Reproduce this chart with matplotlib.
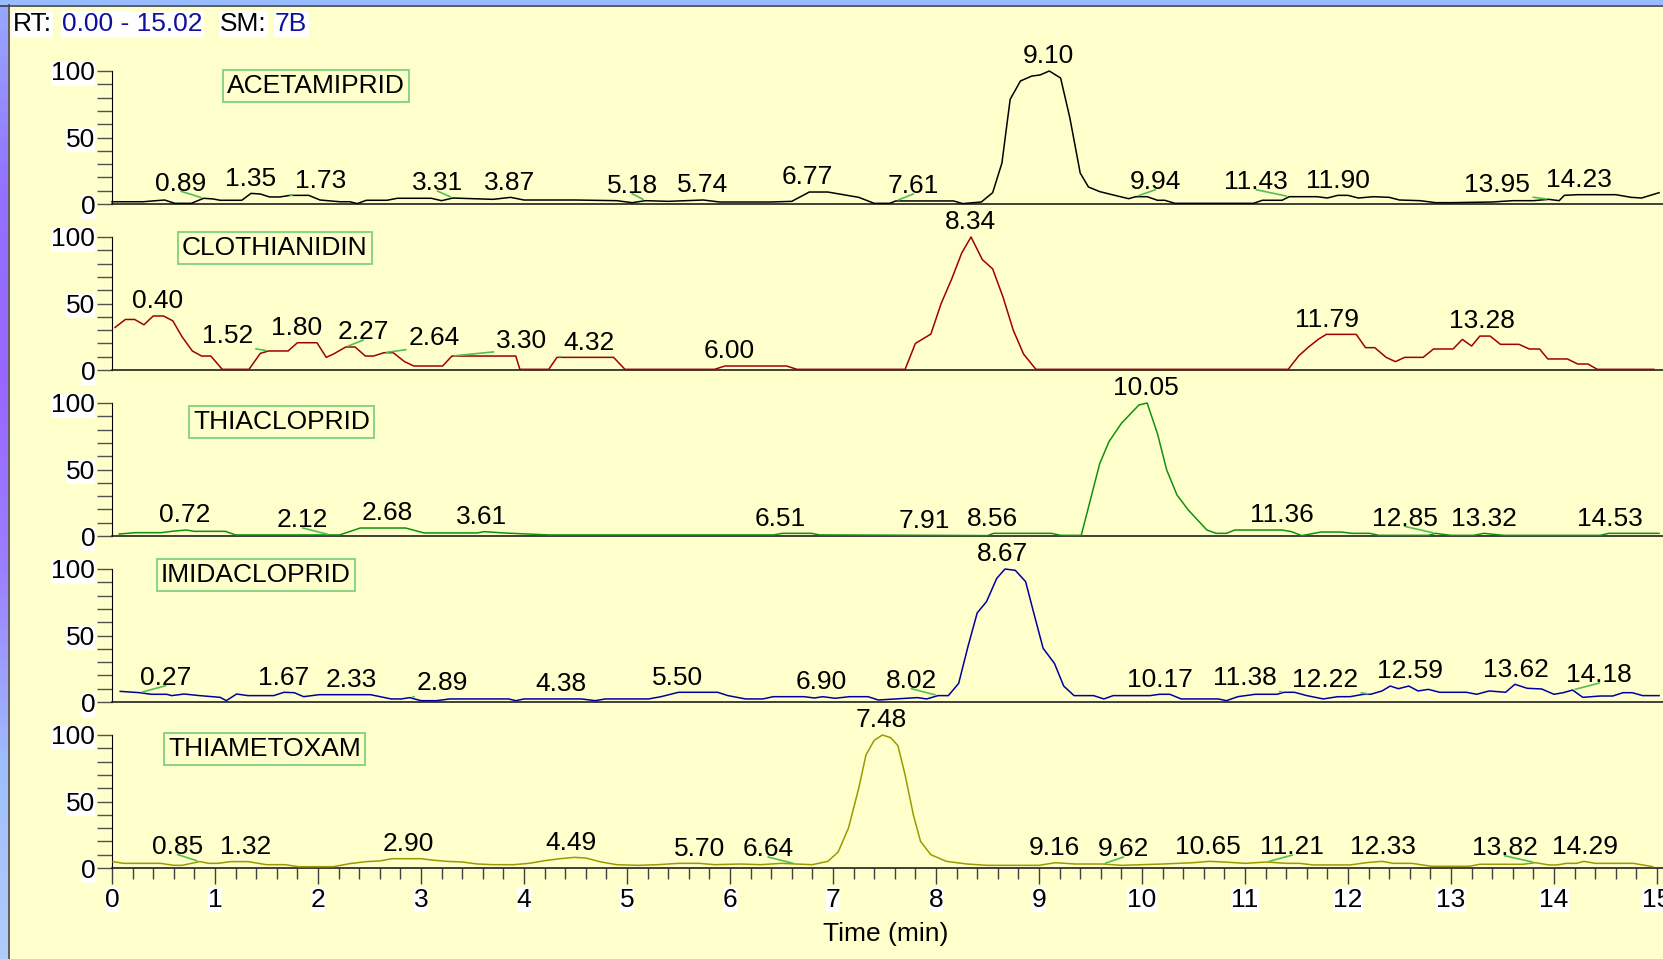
import numpy as np
import matplotlib.pyplot as plt
from matplotlib.ticker import MultipleLocator
from matplotlib.transforms import offset_copy
from matplotlib.colors import LinearSegmentedColormap

plt.rcParams['font.family'] = ['Liberation Sans', 'DejaVu Sans']

W, H, DPI = 1663, 959, 100

# (time [min], relative abundance [%]) vertices of each chromatogram
acet = [(0.00, 1.7), (0.30, 1.7), (0.51, 3.0), (0.61, 0.5), (0.77, 0.5), (0.89, 4.3),
        (0.98, 3.8), (1.05, 2.8), (1.26, 2.8), (1.35, 8.0), (1.44, 7.5), (1.53, 5.3),
        (1.63, 5.3), (1.73, 6.5), (1.91, 6.5), (2.02, 3.0), (2.21, 1.7), (2.31, 1.7),
        (2.38, 0.3), (2.47, 2.8), (2.67, 2.8), (2.77, 4.3), (3.10, 4.3), (3.20, 2.5),
        (3.31, 4.5), (3.50, 4.0), (3.70, 3.5), (3.87, 5.0), (4.00, 3.0), (4.50, 3.0),
        (4.90, 2.5), (5.05, 1.0), (5.18, 2.5), (5.40, 2.0), (5.74, 3.0), (5.90, 1.5),
        (6.40, 1.5), (6.60, 2.0), (6.77, 9.0), (6.95, 9.0), (7.10, 7.0), (7.25, 5.0),
        (7.40, 0.5), (7.55, 0.5), (7.61, 2.3), (8.17, 2.3), (8.26, 0.3), (8.44, 1.5),
        (8.55, 8.5), (8.64, 30.8), (8.72, 78.7), (8.82, 92.5), (8.93, 96.2), (9.01, 97.0),
        (9.10, 100.0), (9.21, 94.7), (9.30, 64.6), (9.40, 23.3), (9.48, 12.8), (9.59, 9.3),
        (9.72, 6.8), (9.87, 4.0), (9.94, 5.5), (10.05, 5.5), (10.15, 2.8), (10.22, 2.8),
        (10.32, 0.5), (11.08, 0.5), (11.17, 2.8), (11.36, 2.8), (11.43, 5.5), (11.70, 5.5),
        (11.80, 4.5), (11.90, 6.5), (12.00, 6.5), (12.10, 4.5), (12.25, 5.5), (12.40, 5.0),
        (12.50, 3.0), (12.70, 2.5), (12.85, 1.0), (13.00, 1.0), (13.40, 1.5), (13.60, 2.5),
        (13.80, 2.5), (13.95, 3.5), (14.05, 2.5), (14.10, 6.5), (14.23, 7.0), (14.60, 7.0),
        (14.75, 5.0), (14.85, 4.5), (15.02, 8.5)]

clot = [(0.03, 32), (0.13, 38), (0.22, 38), (0.31, 34), (0.40, 40.6), (0.50, 40.6),
        (0.59, 37), (0.68, 25), (0.78, 14.3), (0.87, 10.5), (0.96, 10.5), (1.07, 0.5),
        (1.33, 0.5), (1.44, 12.5), (1.52, 14.3), (1.71, 14.3), (1.80, 20.5), (1.99, 20.5),
        (2.08, 9.5), (2.15, 12), (2.27, 17.3), (2.36, 17.3), (2.46, 10.5), (2.54, 10.5),
        (2.64, 13), (2.73, 13), (2.84, 6.3), (2.93, 3), (3.21, 3), (3.30, 10.5),
        (3.92, 10.5), (3.96, 0.5), (4.24, 0.5), (4.32, 9.5), (4.87, 9.5), (4.98, 0.5),
        (5.85, 0.5), (5.95, 3), (6.00, 3), (6.55, 3), (6.65, 0.5), (7.70, 0.5),
        (7.80, 20), (7.95, 27), (8.05, 50), (8.15, 68), (8.25, 88), (8.34, 100),
        (8.45, 83), (8.55, 76), (8.65, 55), (8.75, 30), (8.85, 12), (8.97, 0.5),
        (11.42, 0.5), (11.52, 10.5), (11.61, 16.8), (11.71, 23), (11.79, 26.8), (12.08, 26.8),
        (12.17, 16.8), (12.26, 16.8), (12.37, 9.5), (12.46, 6.3), (12.55, 9.5), (12.73, 9.5),
        (12.83, 15.8), (13.02, 15.8), (13.11, 23), (13.20, 18), (13.28, 25.5), (13.38, 25.5),
        (13.48, 19.3), (13.66, 19.3), (13.76, 15.8), (13.86, 15.8), (13.94, 8.3), (14.13, 8.3),
        (14.23, 4.5), (14.33, 4.5), (14.42, 0.5), (14.97, 0.5)]

thia = [(0.07, 1.5), (0.23, 2.5), (0.48, 2.5), (0.58, 3.5), (0.72, 4.5), (0.80, 3.5),
        (1.10, 3.5), (1.20, 0.8), (2.12, 0.8), (2.21, 0.8), (2.41, 6), (2.68, 6),
        (2.85, 6), (3.03, 2.3), (3.55, 2.3), (3.61, 3.3), (3.80, 2.3), (4.24, 0.8),
        (6.42, 0.8), (6.51, 2), (6.79, 2), (6.87, 0.8), (7.91, 0.5), (8.50, 0.3),
        (8.56, 2), (9.12, 2), (9.21, 0.5), (9.41, 0.5), (9.49, 24.5), (9.59, 54.6),
        (9.68, 71), (9.80, 84.7), (9.97, 98.5), (10.05, 100), (10.15, 77), (10.24, 49.6),
        (10.34, 30.8), (10.45, 19.5), (10.63, 4.5), (10.72, 2), (10.82, 2), (10.90, 4.5),
        (11.36, 4.5), (11.45, 3.3), (11.55, 0.3), (11.74, 3), (11.93, 3), (12.04, 2),
        (12.21, 2), (12.30, 0.5), (12.78, 0.5), (12.85, 2), (13.00, 0.5), (13.22, 0.5),
        (13.32, 2), (13.51, 0.5), (14.45, 0.5), (14.53, 2), (15.02, 2)]

imid = [(0.08, 8), (0.27, 7), (0.38, 5.8), (0.53, 5.8), (0.58, 4.8), (0.70, 6),
        (0.85, 4.8), (1.05, 3.5), (1.11, 1), (1.21, 6), (1.32, 4.8), (1.57, 4.8),
        (1.67, 7.3), (1.77, 7), (1.86, 4), (2.01, 5.5), (2.33, 5.5), (2.51, 5.5),
        (2.71, 2.3), (2.81, 2.3), (2.89, 3.3), (3.00, 1), (3.15, 1), (3.28, 2.3),
        (3.85, 2.3), (3.92, 1), (4.00, 2.3), (4.38, 2.3), (4.56, 2.3), (4.69, 1),
        (4.79, 2.3), (5.21, 2.3), (5.33, 4), (5.50, 7.3), (5.88, 7.3), (5.98, 4.8),
        (6.15, 2.3), (6.32, 2.3), (6.42, 4), (6.72, 4), (6.82, 3), (6.90, 4),
        (7.02, 2.8), (7.16, 4), (7.34, 4), (7.44, 1.5), (7.82, 3.3), (7.91, 2.3),
        (8.02, 4.8), (8.12, 4.8), (8.22, 14), (8.31, 41.6), (8.40, 67), (8.49, 75.4),
        (8.59, 93), (8.67, 100), (8.77, 99), (8.87, 90.5), (8.95, 66.7), (9.04, 40.4),
        (9.15, 29), (9.24, 12), (9.34, 4.8), (9.53, 4.8), (9.63, 2.3), (9.72, 4.8),
        (10.08, 4.8), (10.17, 5.8), (10.27, 5.8), (10.38, 2.3), (10.74, 2.3), (10.82, 1),
        (10.93, 4), (11.10, 5.8), (11.31, 5.8), (11.38, 7.3), (11.48, 7.3), (11.60, 4.8),
        (11.76, 2.3), (11.90, 4), (12.02, 4), (12.15, 5.8), (12.22, 5.8), (12.33, 8.3),
        (12.41, 12), (12.49, 10), (12.59, 12), (12.68, 8.3), (12.78, 9.5), (12.89, 7.3),
        (13.15, 7.3), (13.25, 5.8), (13.37, 8.3), (13.53, 7.3), (13.62, 13.3), (13.74, 10.3),
        (13.88, 9.8), (14.00, 5.8), (14.09, 7), (14.18, 9), (14.28, 3.5), (14.45, 4.5),
        (14.57, 4.5), (14.67, 7), (14.76, 7), (14.86, 4.8), (15.02, 4.8)]

thiam = [(0.01, 4.8), (0.11, 3.5), (0.47, 3.5), (0.60, 2), (0.68, 2), (0.85, 4.8),
         (0.94, 3.5), (1.03, 3.5), (1.15, 4.8), (1.32, 4.8), (1.50, 2.5), (1.68, 2.5),
         (1.81, 1), (2.15, 1), (2.31, 3.3), (2.47, 4.8), (2.60, 5.3), (2.72, 7),
         (2.90, 7), (3.00, 7), (3.10, 6), (3.25, 5), (3.40, 4.5), (3.55, 3),
         (3.70, 2.5), (3.90, 2.5), (4.05, 3.5), (4.20, 5.5), (4.35, 7), (4.49, 8),
         (4.60, 7.5), (4.75, 4.5), (4.90, 2.5), (5.10, 2), (5.30, 2.5), (5.50, 3.5),
         (5.70, 3.5), (5.85, 2.5), (6.10, 3), (6.30, 2.5), (6.50, 3.5), (6.64, 3),
         (6.80, 2.5), (6.95, 5), (7.05, 12), (7.15, 30), (7.25, 60), (7.32, 85),
         (7.40, 96), (7.48, 100), (7.56, 98), (7.63, 92), (7.70, 70), (7.78, 40),
         (7.85, 20), (7.95, 10), (8.10, 5), (8.30, 3), (8.50, 2), (9.00, 2),
         (9.16, 4), (9.35, 3), (9.62, 3), (9.80, 2), (10.20, 3), (10.50, 4),
         (10.65, 5), (10.80, 4.5), (11.00, 3.5), (11.21, 4.5), (11.40, 3.5), (11.53, 3.5),
         (11.66, 2.3), (12.02, 2.3), (12.18, 4), (12.33, 5), (12.44, 3.5), (12.62, 3.5),
         (12.81, 1.3), (13.18, 1.3), (13.28, 2.8), (13.70, 2.8), (13.82, 4), (13.95, 2.3),
         (14.03, 2.3), (14.12, 3.5), (14.22, 3.5), (14.29, 5), (14.40, 3.5), (14.77, 3.5),
         (14.96, 1)]

# peak apex labels and where each label text sits along the time axis
acet_peaks = ['0.89', '1.35', '1.73', '3.31', '3.87', '5.18', '5.74', '6.77', '7.61',
              '9.10', '9.94', '11.43', '11.90', '13.95', '14.23']
acet_lx = [0.67, 1.35, 2.03, 3.16, 3.86, 5.05, 5.73, 6.75, 7.78, 9.09, 10.13, 11.11,
           11.90, 13.45, 14.24]
clot_peaks = ['0.40', '1.52', '1.80', '2.27', '2.64', '3.30', '4.32', '6.00', '8.34',
              '11.79', '13.28']
clot_lx = [0.44, 1.12, 1.79, 2.44, 3.13, 3.98, 4.63, 5.99, 8.33, 11.80, 13.30]
thia_peaks = ['0.72', '2.12', '2.68', '3.61', '6.51', '7.91', '8.56', '10.05', '11.36',
              '12.85', '13.32', '14.53']
thia_lx = [0.71, 1.85, 2.67, 3.59, 6.49, 7.89, 8.55, 10.04, 11.36, 12.55, 13.32, 14.54]
imid_peaks = ['0.27', '1.67', '2.33', '2.89', '4.38', '5.50', '6.90', '8.02', '8.67',
              '10.17', '11.38', '12.22', '12.59', '13.62', '14.18']
imid_lx = [0.52, 1.67, 2.32, 3.21, 4.36, 5.49, 6.89, 7.76, 8.65, 10.17, 11.00, 11.78,
           12.60, 13.63, 14.44]
thiam_peaks = ['0.85', '1.32', '2.90', '4.49', '5.70', '6.64', '7.48', '9.16', '9.62',
               '10.65', '11.21', '12.33', '13.82', '14.29']
thiam_lx = [0.64, 1.30, 2.88, 4.46, 5.70, 6.37, 7.47, 9.15, 9.82, 10.64, 11.46, 12.34,
            13.52, 14.30]

names = ['ACETAMIPRID', 'CLOTHIANIDIN', 'THIACLOPRID', 'IMIDACLOPRID', 'THIAMETOXAM']
traces = [acet, clot, thia, imid, thiam]
peaks = [acet_peaks, clot_peaks, thia_peaks, imid_peaks, thiam_peaks]
label_x = [acet_lx, clot_lx, thia_lx, imid_lx, thiam_lx]
colors = ['#000000', '#A00000', '#109010', '#0000A0', '#9A9A00']
# pixel position (left, centre y) of each compound name box
name_pos = [(227, 86), (182, 248), (193, 422), (161, 575), (168, 749)]

FS = 19
BG = '#FFFFCC'


def fx(x):
    return x / W


def fy(y):
    return 1 - y / H


fig = plt.figure(figsize=(W / DPI, H / DPI), dpi=DPI, facecolor=BG)

# window frame: blue band on top, gradient band on the left
fig.add_artist(plt.Rectangle((0, fy(5)), 1, 5 / H, transform=fig.transFigure,
                             fc='#99BBFF', ec='none'))
fig.add_artist(plt.Line2D([0, 1], [fy(5.5), fy(5.5)], transform=fig.transFigure,
                          color='#404050', lw=1.2))
side = fig.add_axes([0, 0, fx(8), 1])
cmap = LinearSegmentedColormap.from_list(
    'side', ['#99AAFF', '#9370FF', '#9966FF', '#9C80FF', '#A0BEFF', '#B0CCF8'])
side.imshow(np.linspace(0, 1, 256)[:, None], aspect='auto', cmap=cmap)
side.set_axis_off()
fig.add_artist(plt.Line2D([fx(8.5), fx(8.5)], [0, fy(5)], transform=fig.transFigure,
                          color='#404050', lw=1.2))

# header
hdr = dict(fontsize=FS, va='center', ha='left',
           bbox=dict(fc='white', ec='none', pad=1))
fig.text(fx(13), fy(24), 'RT:', color='black', **hdr)
fig.text(fx(62), fy(24), '0.00 - 15.02', color='#10109A', **hdr)
fig.text(fx(220), fy(24), 'SM:', color='black', **hdr)
fig.text(fx(275), fy(24), '7B', color='#10109A', **hdr)

x0, px_per_min = 112, 103.0
xmax = (W - x0) / px_per_min

for k in range(5):
    base = 204 + 166 * k
    ax = fig.add_axes([fx(x0), fy(base), fx(W - x0), 133 / H])
    ax.patch.set_alpha(0)
    t, a = np.array(traces[k]).T
    ax.plot(t, a, color=colors[k], lw=1.1, clip_on=False, zorder=3)
    ax.set_xlim(0, xmax)
    ax.set_ylim(0, 100)

    for s in ('top', 'right'):
        ax.spines[s].set_visible(False)
    ax.spines['left'].set_color('black')
    ax.spines['bottom'].set_color('#202020')
    ax.spines['bottom'].set_linewidth(1.2)

    ax.set_yticks([0, 50, 100])
    ax.yaxis.set_minor_locator(MultipleLocator(10))
    ax.tick_params(axis='y', which='both', direction='out', length=11, width=1,
                   color='#505050', pad=1, labelsize=FS)
    for lab in ax.get_yticklabels():
        lab.set_bbox(dict(fc='white', ec='none', pad=0))

    if k < 4:
        ax.set_xticks([])
    else:
        ax.set_xticks(range(16))
        ax.xaxis.set_minor_locator(MultipleLocator(0.2))
        ax.tick_params(axis='x', which='major', direction='out', length=11.5,
                       width=1, color='#404040', pad=3, labelsize=FS)
        ax.tick_params(axis='x', which='minor', direction='out', length=8,
                       width=1, color='#404040')
        for lab in ax.get_xticklabels():
            lab.set_bbox(dict(fc='white', ec='none', pad=0))

    # compound name box
    fig.text(fx(name_pos[k][0]), fy(name_pos[k][1]), names[k], fontsize=FS,
             ha='left', va='center',
             bbox=dict(boxstyle='square,pad=0.15', fc=BG, ec='#80D080', lw=1.3))

    # retention time labels
    lift = offset_copy(ax.transData, fig=fig, y=5.5, units='points')
    for txt, lx in zip(peaks[k], label_x[k]):
        rt = float(txt)
        yv = np.interp(rt, t, a)
        kw = {}
        if abs(lx - rt) > 0.05:
            kw['arrowprops'] = dict(arrowstyle='-', color='#50C050', lw=1.2,
                                    shrinkA=0, shrinkB=2, relpos=(0.5, 0.18))
        ax.annotate(txt, xy=(rt, yv), xytext=(lx, yv), textcoords=lift,
                    ha='center', va='baseline', fontsize=FS,
                    annotation_clip=False, zorder=4, **kw)

fig.text(fx(886), fy(934), 'Time (min)', fontsize=FS, ha='center', va='center')

fig.savefig('out.png', dpi=DPI, facecolor=BG)
